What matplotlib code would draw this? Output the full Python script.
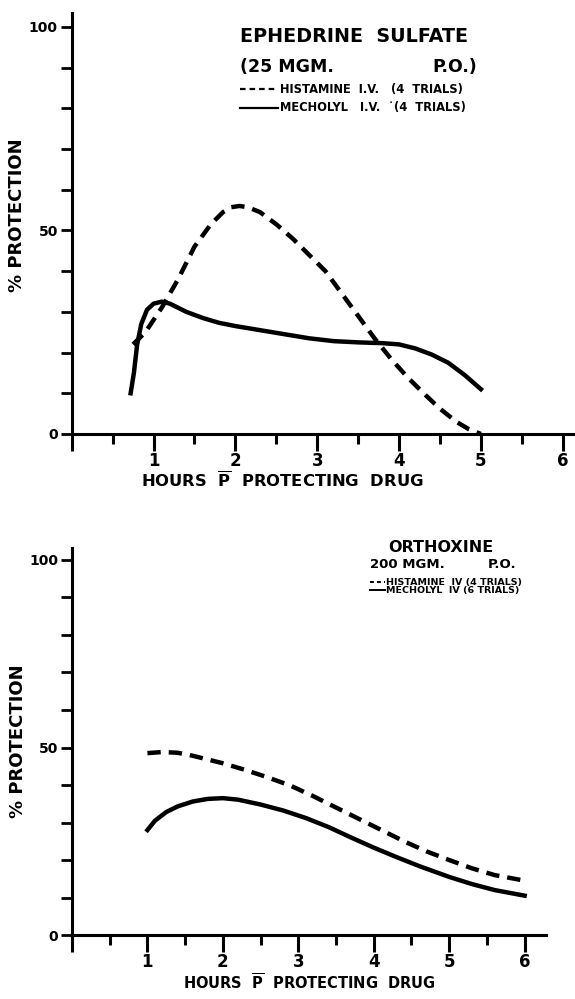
import numpy as np
import matplotlib
matplotlib.use("Agg")
import matplotlib.pyplot as plt

plt.rcParams['font.family'] = ['DejaVu Sans']
plt.rcParams['font.weight'] = 'bold'
plt.rcParams['mathtext.fontset'] = 'custom'
plt.rcParams['mathtext.bf'] = 'DejaVu Sans:bold'
plt.rcParams['mathtext.rm'] = 'DejaVu Sans:bold'

# ephedrine sulfate (top panel)
eph_hist_x = [0.75, 0.9, 1.1, 1.3, 1.5, 1.7, 1.85, 1.95, 2.05, 2.15, 2.3, 2.5, 2.7,
              2.9, 3.1, 3.3, 3.5, 3.7, 3.9, 4.1, 4.3, 4.5, 4.7, 4.85, 5.0]
eph_hist_y = [22, 25, 31, 38, 46, 51.5, 54.5, 55.7, 56, 55.7, 54.5, 51.5, 48,
              44, 40, 34.5, 29, 23.5, 18.5, 14, 10, 6.2, 3, 1.2, 0]
eph_mech_x = [0.72, 0.76, 0.8, 0.85, 0.92, 1.0, 1.1, 1.2, 1.4, 1.6, 1.8, 2.0, 2.3,
              2.6, 2.9, 3.2, 3.5, 3.8, 4.0, 4.2, 4.4, 4.6, 4.8, 5.0]
eph_mech_y = [10, 15, 22, 27, 30.5, 32, 32.5, 32, 30, 28.5, 27.3, 26.5, 25.5,
              24.5, 23.5, 22.8, 22.5, 22.3, 22, 21, 19.5, 17.5, 14.5, 11]

# orthoxine (bottom panel)
ort_hist_x = [1.0, 1.2, 1.4, 1.6, 1.8, 2.0, 2.3, 2.6, 2.9, 3.2, 3.5, 3.8, 4.1,
              4.4, 4.7, 5.0, 5.3, 5.6, 6.0]
ort_hist_y = [48.5, 48.8, 48.6, 47.8, 46.8, 45.8, 44, 42, 39.8, 37, 34, 31, 28,
              25, 22.3, 20, 17.8, 16, 14.5]
ort_mech_x = [1.0, 1.1, 1.25, 1.4, 1.6, 1.8, 2.0, 2.2, 2.5, 2.8, 3.1, 3.4, 3.7,
              4.0, 4.3, 4.6, 5.0, 5.3, 5.6, 6.0]
ort_mech_y = [28, 30.5, 32.8, 34.3, 35.6, 36.3, 36.5, 36.1, 34.8, 33.2, 31.2, 28.8, 26,
              23.3, 20.8, 18.4, 15.5, 13.6, 12, 10.5]

xticks = [1, 2, 3, 4, 5, 6]
xlabel = r"HOURS  $\mathbf{\overline{P}}$  PROTECTING  DRUG"

fig = plt.figure(figsize=(5.75, 9.99), dpi=100)


def style_axes(ax, xmax, ymax, xlab_size):
    ax.set_xlim(0, xmax)
    ax.set_ylim(0, ymax)
    for s in ['top', 'right']:
        ax.spines[s].set_visible(False)
    for s in ['left', 'bottom']:
        ax.spines[s].set_linewidth(2.2)
    ax.set_xticks([0] + xticks)
    ax.set_xticklabels([''] + [str(t) for t in xticks])
    ax.set_xticks(np.arange(0.5, 6.0, 1.0), minor=True)
    ax.set_yticks([0, 50, 100])
    ax.set_yticklabels(['0', '50', '100'])
    ax.set_yticks(np.arange(10, 100, 10), minor=True)
    ax.tick_params(axis='x', which='major', direction='out', length=12, width=2.2,
                   labelsize=12, pad=1)
    ax.tick_params(axis='x', which='minor', direction='out', length=7, width=2.2)
    ax.tick_params(axis='y', which='both', direction='out', length=8, width=2,
                   labelsize=10, pad=2)
    ax.set_ylabel("% PROTECTION", fontsize=13, fontweight='bold')
    ax.set_xlabel(xlabel, fontsize=xlab_size, fontweight='bold', labelpad=1)


ax1 = fig.add_axes([0.1247, 0.5656, 0.8753, 0.4214])
ax1.plot(eph_hist_x, eph_hist_y, color='black', lw=3.2, ls=(0, (3.0, 1.8)))
ax1.plot(eph_mech_x, eph_mech_y, color='black', lw=3.2)
style_axes(ax1, 6.15, 103.4, 11.8)
ax1.yaxis.set_label_coords(-0.09, 0.52)
ax1.xaxis.set_label_coords(0.418, -0.085)

fig.text(240 / 575, 1 - 36 / 999, "EPHEDRINE  SULFATE", fontsize=13.8,
         fontweight='bold', va='center', ha='left')
fig.text(240 / 575, 1 - 67 / 999, "(25 MGM.", fontsize=12.5,
         fontweight='bold', va='center', ha='left')
fig.text(477 / 575, 1 - 67 / 999, "P.O.)", fontsize=12.5,
         fontweight='bold', va='center', ha='right')
fig.lines.append(plt.Line2D([240 / 575, 278 / 575], [1 - 89 / 999] * 2,
                            transform=fig.transFigure, color='black', lw=1.6,
                            ls=(0, (2.5, 1.8))))
fig.lines.append(plt.Line2D([240 / 575, 278 / 575], [1 - 108 / 999] * 2,
                            transform=fig.transFigure, color='black', lw=1.6))
fig.text(280 / 575, 1 - 89 / 999, "HISTAMINE  I.V.   (4  TRIALS)", fontsize=8.3,
         fontweight='bold', va='center', ha='left')
fig.text(280 / 575, 1 - 108 / 999, "MECHOLYL   I.V.  \u02d9(4  TRIALS)", fontsize=8.3,
         fontweight='bold', va='center', ha='left')

ax2 = fig.add_axes([0.1252, 0.064, 0.824, 0.3875])
ax2.plot(ort_hist_x, ort_hist_y, color='black', lw=3.2, ls=(0, (3.0, 1.8)))
ax2.plot(ort_mech_x, ort_mech_y, color='black', lw=3.2)
style_axes(ax2, 6.28, 103.2, 10.5)
ax2.yaxis.set_label_coords(-0.095, 0.5)

fig.text(388 / 575, 1 - 547 / 999, "ORTHOXINE", fontsize=11.5,
         fontweight='bold', va='center', ha='left')
fig.text(370 / 575, 1 - 564 / 999, "200 MGM.", fontsize=9.5,
         fontweight='bold', va='center', ha='left')
fig.text(516 / 575, 1 - 564 / 999, "P.O.", fontsize=9.5,
         fontweight='bold', va='center', ha='right')
fig.lines.append(plt.Line2D([370 / 575, 385 / 575], [1 - 582 / 999] * 2,
                            transform=fig.transFigure, color='black', lw=1.4,
                            ls=(0, (2, 1.6))))
fig.lines.append(plt.Line2D([370 / 575, 385 / 575], [1 - 590 / 999] * 2,
                            transform=fig.transFigure, color='black', lw=1.4))
fig.text(386 / 575, 1 - 582 / 999, "HISTAMINE  IV (4 TRIALS)", fontsize=6.8,
         fontweight='bold', va='center', ha='left')
fig.text(386 / 575, 1 - 590 / 999, "MECHOLYL  IV (6 TRIALS)", fontsize=6.8,
         fontweight='bold', va='center', ha='left')

fig.savefig("out.png", dpi=100)
